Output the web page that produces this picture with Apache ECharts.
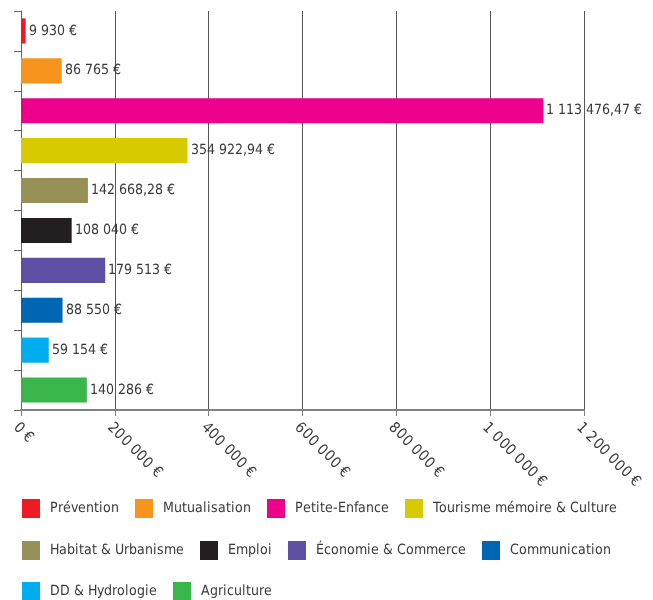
<!DOCTYPE html>
<html><head><meta charset="utf-8">
<script src="https://cdn.jsdelivr.net/npm/echarts@6/dist/echarts.min.js"></script>
<style>
@font-face{font-family:'DVCond';src:local('DejaVu Sans Condensed'),local('DejaVuSansCondensed');}
html,body{margin:0;padding:0;background:#fff}#c{width:653px;height:600px}</style>
</head><body><div id="c"></div>
<script>
const categories = ["Prévention","Mutualisation","Petite-Enfance","Tourisme mémoire & Culture","Habitat & Urbanisme","Emploi","Économie & Commerce","Communication","DD & Hydrologie","Agriculture"];
const values = [9930, 86765, 1113476.47, 354922.94, 142668.28, 108040, 179513, 88550, 59154, 140286];
const colors = ["#ED1C24","#F7941D","#EC008C","#D7CA00","#979157","#231F20","#5E4FA2","#0066B3","#00AEEF","#39B54A"];
const xTicks = [0, 200000, 400000, 600000, 800000, 1000000, 1200000];
const legendRows = [[0,1,2,3],[4,5,6,7],[8,9]];

const FONT = "DVCond,'Liberation Sans Narrow','DejaVu Sans',sans-serif";
function fmt(v){
  const neg = v < 0; v = Math.abs(v);
  const isInt = Math.abs(v - Math.round(v)) < 1e-9;
  let intPart = Math.floor(isInt ? Math.round(v) : v);
  let s = String(intPart).replace(/\B(?=(\d{3})+(?!\d))/g, " ");
  if(!isInt){ s += "," + v.toFixed(2).split(".")[1]; }
  return (neg?"-":"") + s + " €";
}
function render(){
const series = categories.map((name,i)=>({
  name: name,
  type: 'bar',
  stack: 'all',
  barCategoryGap: '37%',
  itemStyle: {color: colors[i]},
  label: {show:true, position:'right', distance:3, color:'#3a3a3a', fontFamily:FONT, fontSize:14,
          formatter: p => fmt(p.value)},
  data: categories.map((c,j)=> j===i ? values[i] : null)
}));
const legendTops = [499, 541, 582];
const legends = legendRows.map((row,r)=>({
  data: row.map(i=>categories[i]),
  left: 22, top: legendTops[r], orient:'horizontal', padding:0, width: 631,
  itemWidth: 18, itemHeight: 19, itemGap: 16, icon: 'rect',
  textStyle: {fontFamily:FONT, fontSize:14, color:'#3a3a3a', padding:[0,0,0,5]},
  selectedMode: false
}));
const chart = echarts.init(document.getElementById('c'), null, {renderer:'canvas'});
chart.setOption({
  animation:false,
  grid:{left:21, right:69, top:11, bottom:190, containLabel:false},
  legend: legends,
  xAxis:{type:'value', min:xTicks[0], max:xTicks[xTicks.length-1], interval:xTicks[1]-xTicks[0],
    axisLine:{show:true, lineStyle:{color:'#808080', width:2}},
    axisTick:{show:true, length:6, lineStyle:{color:'#808080'}},
    splitLine:{show:true, lineStyle:{color:'#555', width:1}},
    axisLabel:{rotate:-45, margin:10, verticalAlign:'top', fontFamily:FONT, fontSize:15, color:'#3a3a3a', formatter: v=>fmt(v)}
  },
  yAxis:{type:'category', data:categories, inverse:true,
    axisLine:{show:true, lineStyle:{color:'#666', width:1}},
    axisTick:{show:true, length:7, lineStyle:{color:'#666'}},
    axisLabel:{show:false}, splitLine:{show:false}
  },
  series: series
});
}
if (document.fonts && document.fonts.load) {
  document.fonts.load("15px DVCond").then(render, render);
} else { render(); }
</script></body></html>
